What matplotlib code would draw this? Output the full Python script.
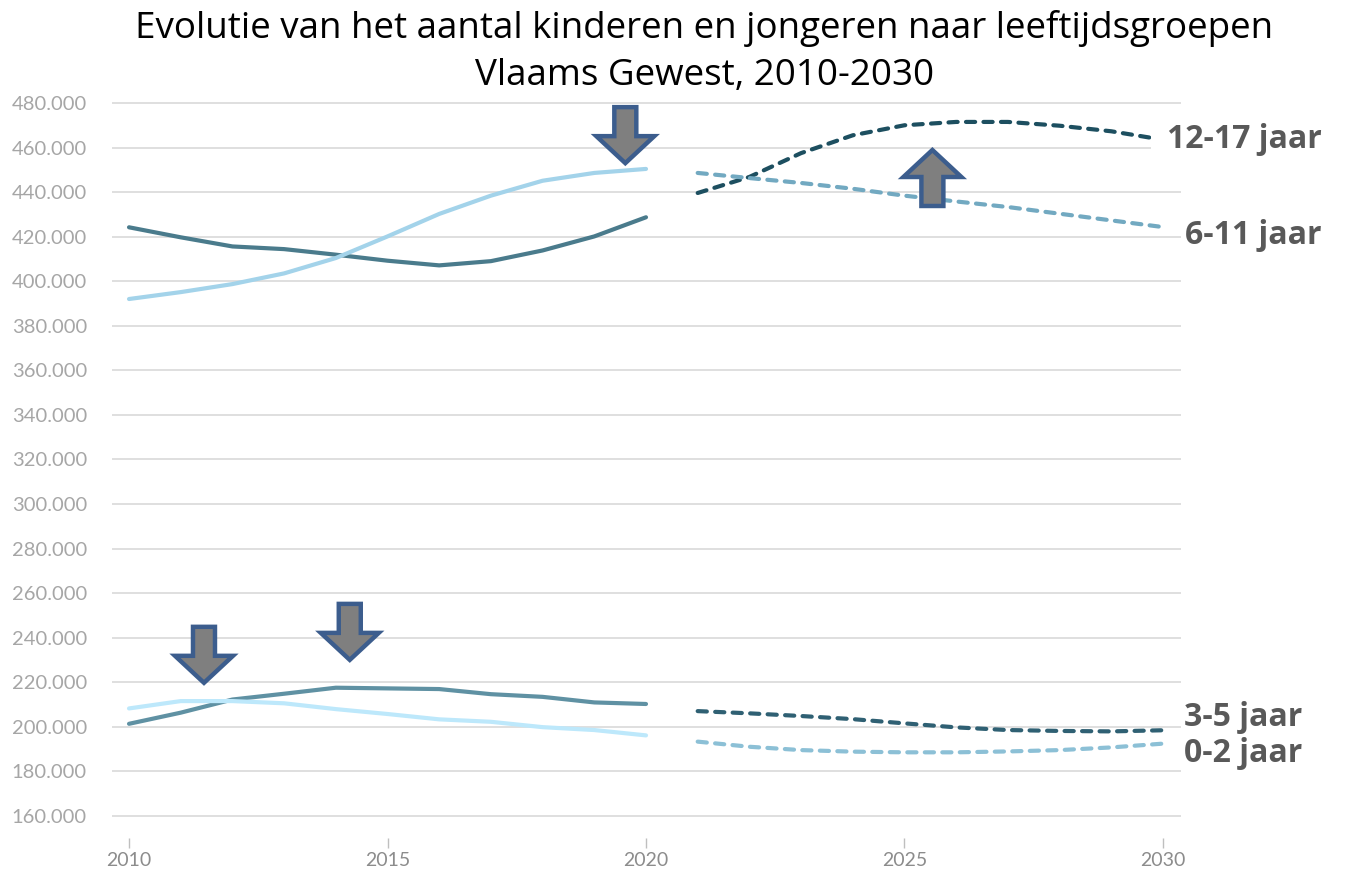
import matplotlib
matplotlib.use("Agg")
import matplotlib.pyplot as plt
from matplotlib.patches import Polygon
from matplotlib.transforms import ScaledTranslation
from matplotlib.ticker import FuncFormatter

years_obs = [2010, 2011, 2012, 2013, 2014, 2015, 2016, 2017, 2018, 2019, 2020]
years_proj = [2021, 2022, 2023, 2024, 2025, 2026, 2027, 2028, 2029, 2030]

obs_12_17 = [424200, 419700, 415600, 414400, 411900, 409200, 407100, 409000, 413800, 420100, 428700]
obs_6_11 = [392000, 395100, 398700, 403500, 410400, 420100, 430200, 438400, 445100, 448600, 450400]
obs_3_5 = [201300, 206300, 212200, 214800, 217500, 217200, 216900, 214600, 213400, 210900, 210200]
obs_0_2 = [208200, 211500, 211500, 210500, 207900, 205700, 203300, 202200, 199800, 198500, 196100]

proj_12_17 = [439600, 446800, 457500, 465500, 470000, 471500, 471500, 469800, 467300, 463500]
proj_6_11 = [448600, 446300, 444100, 441500, 438400, 435800, 433300, 430300, 427300, 424300]
proj_3_5 = [207000, 206000, 204800, 203400, 201500, 199700, 198500, 198100, 197900, 198400]
proj_0_2 = [193300, 191000, 189500, 188800, 188500, 188500, 188900, 189500, 190700, 192400]

series_labels = ["12-17 jaar", "6-11 jaar", "3-5 jaar", "0-2 jaar"]
y_ticks = list(range(160000, 480001, 20000))
x_ticks = [2010, 2015, 2020, 2025, 2030]

# arrow annotations: (year, value of tip, direction)
arrows = [(2019.6, 453000, "down"), (2011.45, 219700, "down"),
          (2014.27, 230000, "down"), (2025.54, 458900, "up")]

title = "Evolutie van het aantal kinderen en jongeren naar leeftijdsgroepen\nVlaams Gewest, 2010-2030"

fig = plt.figure(figsize=(13.49, 8.73), dpi=100)
ax = fig.add_axes([0.083, 0.040, 0.7925, 0.8433])

c_obs = {"12-17": "#4a7b8c", "6-11": "#a3d3ea", "3-5": "#5f91a3", "0-2": "#bde8fb"}
c_proj = {"12-17": "#1d4f60", "6-11": "#72a9c1", "3-5": "#2f6073", "0-2": "#8cc0d6"}

lw = 3.0
ax.plot(years_obs, obs_12_17, color=c_obs["12-17"], lw=lw, solid_capstyle="round", zorder=3)
ax.plot(years_obs, obs_6_11, color=c_obs["6-11"], lw=lw, solid_capstyle="round", zorder=3)
ax.plot(years_obs, obs_3_5, color=c_obs["3-5"], lw=lw, solid_capstyle="round", zorder=3)
ax.plot(years_obs, obs_0_2, color=c_obs["0-2"], lw=lw, solid_capstyle="round", zorder=3)

dash = (0, (2.2, 2.0))
ax.plot(years_proj, proj_12_17, color=c_proj["12-17"], lw=lw, ls=dash, dash_capstyle="round", zorder=3)
ax.plot(years_proj, proj_6_11, color=c_proj["6-11"], lw=lw, ls=dash, dash_capstyle="round", zorder=3)
ax.plot(years_proj, proj_3_5, color=c_proj["3-5"], lw=lw, ls=dash, dash_capstyle="round", zorder=3)
ax.plot(years_proj, proj_0_2, color=c_proj["0-2"], lw=lw, ls=dash, dash_capstyle="round", zorder=3)

ax.set_xlim(2009.67, 2030.35)
ax.set_ylim(150000, 480500)
ax.set_yticks(y_ticks)
ax.set_xticks(x_ticks)
ax.yaxis.set_major_formatter(FuncFormatter(lambda v, p: f"{int(v):,}".replace(",", ".")))
ax.grid(axis="y", color="#d9d9d9", lw=1.2, zorder=0)
ax.set_axisbelow(True)
for s in ax.spines.values():
    s.set_visible(False)
ax.tick_params(axis="y", length=0, pad=18, labelsize=14.5, labelcolor="#a6a6a6")
ax.tick_params(axis="x", length=7, width=1, color="#bfbfbf", direction="out",
               pad=3, labelsize=14, labelcolor="#8c8c8c")
for lab in ax.get_xticklabels() + ax.get_yticklabels():
    lab.set_fontfamily("Lato")

# right labels
lab_font = dict(fontsize=23, fontweight="bold", color="#595959", family="Open Sans",
                va="center", ha="left")
ax.annotate(series_labels[0], xy=(years_proj[-1], proj_12_17[-1]), xytext=(3, 0),
            textcoords="offset points", annotation_clip=False,
            bbox=dict(boxstyle="square,pad=0.5", fc="white", ec="none"), zorder=5, **lab_font)
ax.annotate(series_labels[1], xy=(years_proj[-1], proj_6_11[-1]), xytext=(16, -6),
            textcoords="offset points", annotation_clip=False, zorder=5, **lab_font)
ax.annotate(series_labels[2], xy=(years_proj[-1], proj_3_5[-1]), xytext=(15, 9),
            textcoords="offset points", annotation_clip=False, zorder=5, **lab_font)
ax.annotate(series_labels[3], xy=(years_proj[-1], proj_0_2[-1]), xytext=(15, -7),
            textcoords="offset points", annotation_clip=False, zorder=5, **lab_font)

# block arrows (vertices in inches, tip at origin, pointing down)
L, HL, HW, SW = 0.56, 0.27, 0.58, 0.22
down_shape = [(0, 0), (-HW / 2, HL), (-SW / 2, HL), (-SW / 2, L), (SW / 2, L), (SW / 2, HL), (HW / 2, HL)]
for x, y, d in arrows:
    verts = down_shape if d == "down" else [(vx, -vy) for vx, vy in down_shape]
    tr = fig.dpi_scale_trans + ScaledTranslation(x, y, ax.transData)
    poly = Polygon(verts, closed=True, transform=tr, fc="#7f7f7f", ec="#3c5d8d",
                   lw=3.2, joinstyle="miter", zorder=6, clip_on=False)
    ax.add_patch(poly)

fig.text(0.522, 0.988, title, ha="center", va="top", fontsize=26.5, family="Open Sans",
         color="black", linespacing=1.38)

fig.savefig("out.png", dpi=100)
